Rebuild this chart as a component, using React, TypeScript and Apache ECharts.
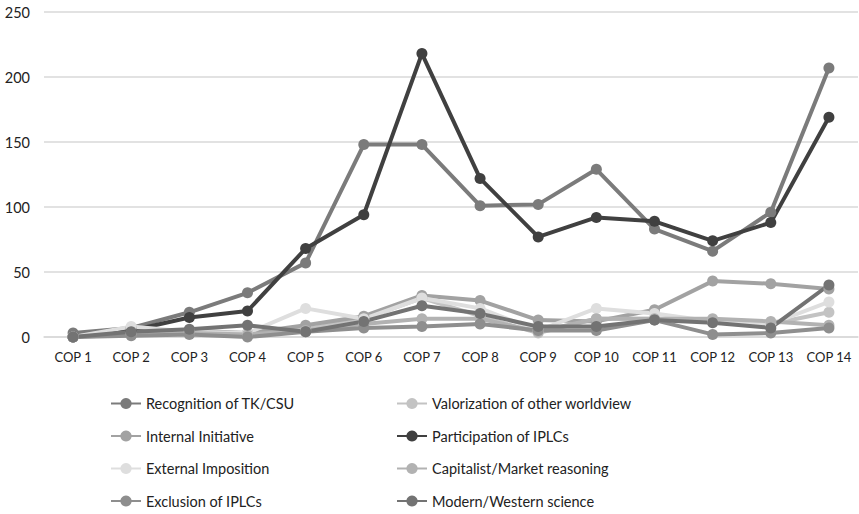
import React, { useEffect, useRef } from "react";
import * as echarts from "echarts";

const categories = ["COP 1","COP 2","COP 3","COP 4","COP 5","COP 6","COP 7","COP 8","COP 9","COP 10","COP 11","COP 12","COP 13","COP 14"];
const yTicks = [0, 50, 100, 150, 200, 250];

const recognition = [3, 7, 19, 34, 57, 148, 148, 101, 102, 129, 83, 66, 96, 207];
const valorization = [0, 6, 3, 2, 6, 14, 30, 16, 3, 14, 14, 13, 10, 19];
const internalInit = [0, 3, 5, 3, 9, 16, 32, 28, 13, 12, 21, 43, 41, 37];
const participation = [0, 5, 15, 20, 68, 94, 218, 122, 77, 92, 89, 74, 88, 169];
const externalImp = [0, 8, 4, 3, 22, 14, 30, 22, 5, 22, 18, 12, 10, 27];
const capitalist = [0, 2, 3, 2, 5, 10, 14, 14, 4, 14, 14, 14, 12, 9];
const exclusion = [0, 1, 2, 0, 4, 7, 8, 10, 5, 5, 13, 2, 3, 7];
const modern = [0, 4, 6, 9, 4, 12, 24, 18, 8, 8, 13, 11, 7, 40];

const seriesDefs = [
  { name: "Recognition of TK/CSU", data: recognition, color: "#7b7b7b" },
  { name: "Valorization of other worldview", data: valorization, color: "#c3c3c3" },
  { name: "Internal Initiative", data: internalInit, color: "#a2a2a2" },
  { name: "Participation of IPLCs", data: participation, color: "#404040" },
  { name: "External Imposition", data: externalImp, color: "#dedede" },
  { name: "Capitalist/Market reasoning", data: capitalist, color: "#b2b2b2" },
  { name: "Exclusion of IPLCs", data: exclusion, color: "#8e8e8e" },
  { name: "Modern/Western science", data: modern, color: "#737373" },
];

const FONT = "Lato";

export default function App() {
  const ref = useRef<HTMLDivElement>(null);
  useEffect(() => {
    if (!ref.current) return;
    const chart = echarts.init(ref.current, undefined, { renderer: "svg" });
    const legendCommon = {
      orient: "vertical" as const,
      top: 396,
      height: 130,
      padding: 0,
      itemWidth: 30,
      itemHeight: 14,
      itemGap: 17.5,
      textStyle: { fontFamily: FONT, fontSize: 14.5, color: "#222" },
    };
    chart.setOption({
      animation: false,
      backgroundColor: "#ffffff",
      grid: { left: 44, right: 1, top: 12, bottom: 177, containLabel: false },
      xAxis: {
        type: "category",
        data: categories,
        boundaryGap: true,
        axisLine: { show: true, lineStyle: { color: "#d9d9d9", width: 1.5 } },
        axisTick: { show: false },
        axisLabel: { fontFamily: FONT, fontSize: 13, color: "#222", margin: 13, interval: 0, hideOverlap: false },
      },
      yAxis: {
        type: "value",
        min: 0,
        max: 250,
        interval: 50,
        axisLine: { show: false },
        axisTick: { show: false },
        splitLine: { lineStyle: { color: "#d9d9d9", width: 1.5 } },
        axisLabel: { fontFamily: FONT, fontSize: 14.5, color: "#222", margin: 14, customValues: yTicks },
      },
      legend: [
        { ...legendCommon, left: 110, data: [seriesDefs[0].name, seriesDefs[2].name, seriesDefs[4].name, seriesDefs[6].name] },
        { ...legendCommon, left: 396, data: [seriesDefs[1].name, seriesDefs[3].name, seriesDefs[5].name, seriesDefs[7].name] },
      ],
      series: seriesDefs.map((s) => ({
        name: s.name,
        type: "line",
        data: s.data,
        color: s.color,
        symbol: "circle",
        symbolSize: 11,
        lineStyle: { width: 4, color: s.color },
        itemStyle: { color: s.color },
      })),
    });
    return () => chart.dispose();
  }, []);
  return <div ref={ref} style={{ position: "absolute", left: 0, top: 0, width: 859, height: 514 }} />;
}
